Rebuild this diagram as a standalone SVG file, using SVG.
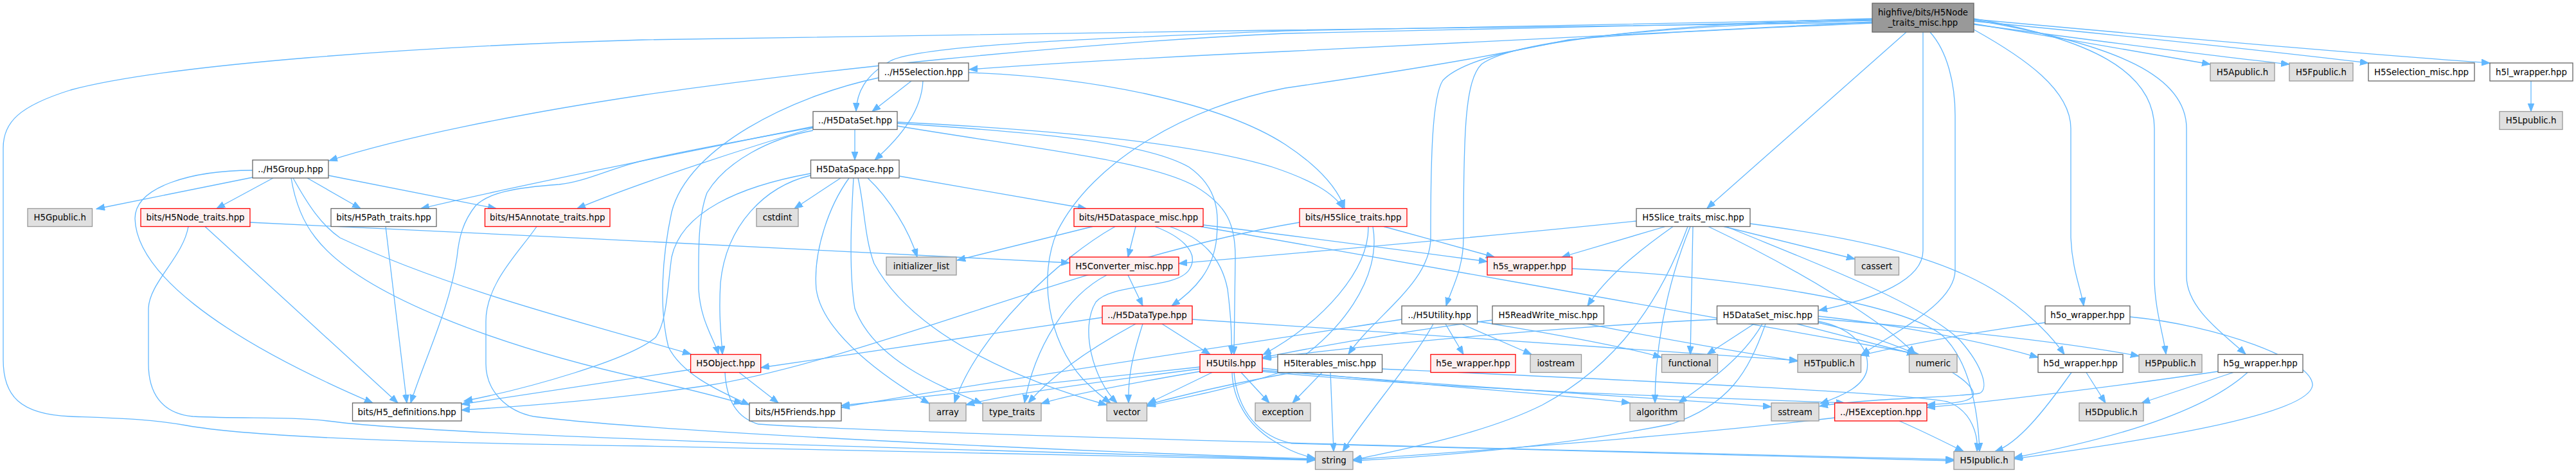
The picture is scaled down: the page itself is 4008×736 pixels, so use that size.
<svg xmlns="http://www.w3.org/2000/svg" width="4008" height="736" viewBox="0 0 4008 736">
<style>
rect{stroke-width:1.3}
.w{fill:#ffffff;stroke:#666666}
.g{fill:#e0e0e0;stroke:#999999}
.r{fill:#fff0f0;stroke:#ff0000}
.k{fill:#999999;stroke:#666666}
text{font-family:"DejaVu Sans","Liberation Sans",sans-serif;font-size:13.33px;text-anchor:middle;fill:#000000}
#edges path{fill:none;stroke:#63b8ff;stroke-width:1.3;marker-end:url(#a)}
</style>
<defs>
<marker id="a" markerWidth="14" markerHeight="11" refX="13" refY="5" orient="auto" markerUnits="userSpaceOnUse">
<path d="M0,0 L13,5 L0,10 z" fill="#63b8ff" stroke="#63b8ff" stroke-width="1"/>
</marker>
</defs>
<rect x="0" y="0" width="4008" height="736" fill="#ffffff"/>
<g id="edges">
<path d="M2913,35 C2500,42 1400,52 1000,62 C650,72 260,100 110,140 C30,165 5,190 5,230 L5,560 C5,615 30,645 110,648 C190,651 235,652 290,662 C400,682 700,690 1000,694 C1450,702 1850,710 2046,716"/>
<path d="M2913,32 C2500,40 2200,45 2000,52 C1650,68 1250,112 1000,148 C800,178 620,215 512,250"/>
<path d="M2913,30 C2500,36 2200,42 2000,48 C1700,60 1430,70 1385,95 C1345,118 1333,145 1332,173"/>
<path d="M2913,34 C2600,50 2200,72 2000,80 C1800,89 1620,100 1508,108"/>
<path d="M2913,36 C2700,45 2500,55 2440,62 C2300,92 2150,115 2000,137 C1850,165 1700,250 1645,360 C1615,430 1630,530 1685,590 C1700,605 1712,616 1728,627"/>
<path d="M2913,31 C2600,40 2360,60 2305,100 C2280,125 2277,200 2277,370 C2277,420 2258,450 2250,476"/>
<path d="M2913,29 C2600,36 2300,66 2245,125 C2228,150 2226,250 2226,370 C2226,440 2140,490 2098,551"/>
<path d="M2966,50 L2656,324"/>
<path d="M2992,50 L2992,390 C2992,435 2920,465 2830,483"/>
<path d="M3003,50 C3030,80 3042,130 3042,180 L3042,420 C3042,470 2960,510 2896,552"/>
<path d="M3071,29 C3250,60 3352,110 3352,200 L3352,430 C3352,480 3366,520 3370,551"/>
<path d="M3071,31 C3300,70 3402,120 3402,200 L3402,430 C3402,480 3460,520 3494,551"/>
<path d="M3071,46 C3150,90 3222,140 3222,200 L3222,370 C3224,420 3238,450 3242,476"/>
<path d="M3071,37 C3200,58 3350,84 3439,100"/>
<path d="M3071,38 C3250,62 3450,88 3562,100"/>
<path d="M3071,33 C3300,55 3550,82 3685,98"/>
<path d="M3071,30 C3400,60 3700,86 3874,98"/>
<path d="M1418,126 L1357,173.5"/>
<path d="M1436,126 C1434,170 1405,210 1361,249"/>
<path d="M1507,113 C1700,120 1900,160 2000,225 C2050,258 2080,290 2092,324"/>
<path d="M1367,121 C1230,150 1070,230 1045,330 C1030,400 1025,480 1040,540 C1060,580 1110,605 1166,630"/>
<path d="M3938,126 L3938,173.5"/>
<path d="M1330,201.5 L1330,249"/>
<path d="M1265,197 C1050,240 800,290 655,324.5"/>
<path d="M1265,199 C1130,240 980,290 898,324.5"/>
<path d="M1265,198 C1150,220 1060,235 1000,250 C950,262 910,283 870,287 C800,292 760,300 740,320 C720,345 714,370 711,400 C700,480 660,560 639,627"/>
<path d="M1265,203 C1200,215 1130,250 1100,300 C1085,340 1087,400 1087,450 C1090,500 1110,525 1118,551.5"/>
<path d="M1396,192 C1600,205 1780,220 1850,260 C1900,295 1895,340 1893,370 C1888,420 1860,450 1823,476"/>
<path d="M1396,196 C1600,230 1790,250 1860,290 C1910,320 1922,350 1922,400 L1920,551.5"/>
<path d="M1396,190 C1600,200 1850,220 1980,260 C2040,280 2075,300 2090,324.5"/>
<path d="M1308,277 L1236,324.5"/>
<path d="M1350,277 C1385,310 1415,360 1427,400"/>
<path d="M1399,274 L1690,324.5"/>
<path d="M1261,273 C1190,290 1130,350 1121,440 C1118,490 1122,520 1124,551.5"/>
<path d="M1261,270 C1150,290 1060,330 1045,400 C1038,450 1038,500 1020,525 C980,560 820,605 722,624"/>
<path d="M1321,277 C1290,320 1265,390 1270,450 C1280,520 1380,590 1446,628"/>
<path d="M1328,277 C1325,330 1320,420 1330,480 C1360,560 1460,600 1528,628"/>
<path d="M1335,277 C1345,320 1345,370 1360,410 C1420,520 1580,590 1722,630"/>
<path d="M393,276 L150,325"/>
<path d="M425,277 L337,324.5"/>
<path d="M478,277 L561,324.5"/>
<path d="M511,273 L772,324.5"/>
<path d="M393,265 C300,265 210,290 210,340 C212,420 330,520 580,627"/>
<path d="M456,277 C480,320 500,350 529,370 C700,450 900,500 1075,551"/>
<path d="M453,277 C460,320 475,350 491,370 C560,460 780,540 1000,589 C1060,603 1110,615 1155,628"/>
<path d="M319,352.5 L619,627"/>
<path d="M389,346 C800,365 1300,390 1664,409"/>
<path d="M293,352.5 C285,400 232,440 231,480 L231,566 C231,610 250,643 300,648 C380,652 450,648 510,655 C700,680 1500,700 2046,715"/>
<path d="M600,352.5 L633,627"/>
<path d="M835,352.5 C810,390 756,440 756,500 L756,566 C756,610 790,640 830,648 C1000,670 1600,700 2046,714"/>
<path d="M1700,352.5 L1489,405"/>
<path d="M1767,352.5 L1755,400"/>
<path d="M1735,352.5 C1650,400 1520,520 1485,627"/>
<path d="M1797,352.5 C1830,365 1870,390 1850,420 C1830,450 1730,440 1705,470 C1680,510 1700,590 1738,627"/>
<path d="M1820,352.5 C1870,370 1900,400 1910,450 C1915,490 1917,520 1916,551.5"/>
<path d="M1872,350 C2000,365 2150,385 2314,407"/>
<path d="M1868,352.5 C2200,410 2700,500 2985,551"/>
<path d="M1755,428 L1778,476"/>
<path d="M1722,428 C1660,460 1610,540 1594,627"/>
<path d="M1715,494 L1184,572"/>
<path d="M1767,504 C1700,540 1640,580 1600,627"/>
<path d="M1778,504 C1760,560 1755,590 1756,627"/>
<path d="M1808,504 L1883,551.5"/>
<path d="M1855,497 C2200,520 2600,545 2797,561"/>
<path d="M2022,346 C1700,400 1350,560 1100,600 C950,622 800,633 718,638"/>
<path d="M2129,352.5 C2130,420 2060,500 1965,552"/>
<path d="M2136,352.5 C2150,430 2090,520 1990,580 C1900,610 1820,622 1785,632"/>
<path d="M2153,352.5 C2210,368 2270,385 2325,400"/>
<path d="M2546,344 C2300,370 2000,395 1834,410"/>
<path d="M2591,352.5 L2430,400"/>
<path d="M2603,352.5 C2550,390 2500,430 2470,476"/>
<path d="M2626,352.5 C2590,450 2530,560 2400,630 C2300,680 2150,705 2105,716"/>
<path d="M2630,352.5 C2590,450 2575,550 2575,627"/>
<path d="M2634,352.5 L2630,551.5"/>
<path d="M2658,352.5 C2800,420 2930,500 2980,551"/>
<path d="M2686,352.5 C2800,400 2990,470 3050,530 C3085,570 3095,605 3080,612 C3050,618 2900,620 2831,632"/>
<path d="M2682,352.5 L2886,403"/>
<path d="M2723,348 C2850,365 3000,390 3100,450 C3150,480 3190,520 3212,551.5"/>
<path d="M2446,418 C2700,430 2950,470 3020,520 C3065,560 3078,640 3080,702.5"/>
<path d="M2249,504 L2277,551.5"/>
<path d="M2274,504 L2383,551.5"/>
<path d="M2298,500 C2420,520 2530,540 2585,556"/>
<path d="M2230,504 C2200,560 2130,640 2089,702.5"/>
<path d="M2181,497 C1900,540 1500,600 1309,634"/>
<path d="M2322,498 C2150,520 2050,540 1965,556"/>
<path d="M2470,504 C2600,530 2720,550 2797,562"/>
<path d="M2671,497 C2400,510 2100,540 1965,558"/>
<path d="M2729,504 L2656,551.5"/>
<path d="M2742,504 C2710,560 2650,600 2612,627"/>
<path d="M2747,504 C2720,580 2690,630 2600,660 C2400,700 2200,712 2106,717"/>
<path d="M2796,504 L2980,551.5"/>
<path d="M2829,496 C3000,510 3200,530 3328,554"/>
<path d="M2829,492 C2950,505 3080,530 3171,556"/>
<path d="M2829,500 C2880,510 2910,540 2905,575 C2900,600 2870,615 2832,628"/>
<path d="M2829,502 C2950,530 3060,580 3070,610 C3075,625 3040,628 2998,630"/>
<path d="M3314,493 C3450,506 3600,560 3598,600 C3590,650 3300,690 3134,714"/>
<path d="M3182,502 C3050,520 2950,540 2895,553"/>
<path d="M3246,579.5 L3276,627"/>
<path d="M3223,579.5 C3180,640 3140,690 3104,702.5"/>
<path d="M3475,579.5 L3332,627"/>
<path d="M3497,579.5 C3420,650 3250,690 3134,712"/>
<path d="M3451,578 C3300,600 3100,625 2998,634"/>
<path d="M1075,575 L718,629"/>
<path d="M1150,579.5 L1211,627"/>
<path d="M1128,579.5 C1130,620 1145,650 1180,660 C1400,675 2400,700 3040,715"/>
<path d="M1867,571 L1309,631"/>
<path d="M1867,574 C1700,595 1560,615 1503,630"/>
<path d="M1867,578 C1750,598 1660,615 1620,628"/>
<path d="M1886,579.5 L1786,628"/>
<path d="M1931,579.5 L1975,627"/>
<path d="M1917,579.5 C1918,620 1940,660 1980,685 C2000,698 2020,708 2046,713"/>
<path d="M1920,579.5 C1925,640 1960,680 2010,690 C2400,700 2800,708 3040,717"/>
<path d="M1964,573 C2200,600 2450,615 2536,627"/>
<path d="M1964,576 C2300,605 2600,620 2756,633"/>
<path d="M1964,578 C2300,610 2700,620 2870,627"/>
<path d="M2057,579.5 L2011,627"/>
<path d="M2070,579.5 L2075,702.5"/>
<path d="M2012,579.5 C1900,600 1820,620 1785,630"/>
<path d="M2150,574 C2500,590 2950,610 3030,625 C3070,640 3078,680 3076,702.5"/>
<path d="M2855,650 C2600,680 2250,705 2105,715"/>
<path d="M2955,655 C2990,670 3030,690 3055,702.5"/>
</g>
<g id="n_root"><rect class="k" x="2913" y="5" width="158" height="45"/><text x="2992" y="23.5">highfive/bits/H5Node</text><text x="2992" y="40">_traits_misc.hpp</text></g>
<g id="n_sel"><rect class="w" x="1367" y="98" width="140" height="28"/><text x="1437" y="116.8">../H5Selection.hpp</text></g>
<g id="n_apub"><rect class="g" x="3439" y="98" width="100" height="28"/><text x="3489" y="116.8">H5Apublic.h</text></g>
<g id="n_fpub"><rect class="g" x="3562" y="98" width="99" height="28"/><text x="3611.5" y="116.8">H5Fpublic.h</text></g>
<g id="n_selmisc"><rect class="w" x="3685" y="98" width="165" height="28"/><text x="3767.5" y="116.8">H5Selection_misc.hpp</text></g>
<g id="n_h5l"><rect class="w" x="3874" y="98" width="129" height="28"/><text x="3938.5" y="116.8">h5l_wrapper.hpp</text></g>
<g id="n_ds"><rect class="w" x="1265" y="173.5" width="131" height="28"/><text x="1330.5" y="192.3">../H5DataSet.hpp</text></g>
<g id="n_lpub"><rect class="g" x="3889" y="173.5" width="98" height="28"/><text x="3938" y="192.3">H5Lpublic.h</text></g>
<g id="n_group"><rect class="w" x="393" y="249" width="118" height="28"/><text x="452" y="267.8">../H5Group.hpp</text></g>
<g id="n_dsp"><rect class="w" x="1261.5" y="249" width="137.5" height="28"/><text x="1330.2" y="267.8">H5DataSpace.hpp</text></g>
<g id="n_gpub"><rect class="g" x="43" y="324.5" width="100.5" height="28"/><text x="93.2" y="343.3">H5Gpublic.h</text></g>
<g id="n_nodetr"><rect class="r" x="219" y="324.5" width="170" height="28"/><text x="304" y="343.3">bits/H5Node_traits.hpp</text></g>
<g id="n_pathtr"><rect class="w" x="515" y="324.5" width="164" height="28"/><text x="597" y="343.3">bits/H5Path_traits.hpp</text></g>
<g id="n_anntr"><rect class="r" x="754.5" y="324.5" width="194.5" height="28"/><text x="851.7" y="343.3">bits/H5Annotate_traits.hpp</text></g>
<g id="n_cstdint"><rect class="g" x="1177" y="324.5" width="65" height="28"/><text x="1209.5" y="343.3">cstdint</text></g>
<g id="n_dspmisc"><rect class="r" x="1671" y="324.5" width="201" height="28"/><text x="1771.5" y="343.3">bits/H5Dataspace_misc.hpp</text></g>
<g id="n_slicetr"><rect class="r" x="2022" y="324.5" width="167" height="28"/><text x="2105.5" y="343.3">bits/H5Slice_traits.hpp</text></g>
<g id="n_slicemisc"><rect class="w" x="2546" y="324.5" width="177" height="28"/><text x="2634.5" y="343.3">H5Slice_traits_misc.hpp</text></g>
<g id="n_initlist"><rect class="g" x="1379" y="400" width="109" height="28"/><text x="1433.5" y="418.8">initializer_list</text></g>
<g id="n_convmisc"><rect class="r" x="1664.5" y="400" width="169.5" height="28"/><text x="1749.2" y="418.8">H5Converter_misc.hpp</text></g>
<g id="n_h5s"><rect class="r" x="2314" y="400" width="132" height="28"/><text x="2380" y="418.8">h5s_wrapper.hpp</text></g>
<g id="n_cassert"><rect class="g" x="2886" y="400" width="68.5" height="28"/><text x="2920.2" y="418.8">cassert</text></g>
<g id="n_dtype"><rect class="r" x="1715" y="476" width="140" height="28"/><text x="1785" y="494.8">../H5DataType.hpp</text></g>
<g id="n_utility"><rect class="w" x="2181" y="476" width="117.5" height="28"/><text x="2239.7" y="494.8">../H5Utility.hpp</text></g>
<g id="n_rwmisc"><rect class="w" x="2322" y="476" width="173.5" height="28"/><text x="2408.7" y="494.8">H5ReadWrite_misc.hpp</text></g>
<g id="n_dsmisc"><rect class="w" x="2671.5" y="476" width="157.5" height="28"/><text x="2750.2" y="494.8">H5DataSet_misc.hpp</text></g>
<g id="n_h5o"><rect class="w" x="3182" y="476" width="132" height="28"/><text x="3248" y="494.8">h5o_wrapper.hpp</text></g>
<g id="n_object"><rect class="r" x="1074.6" y="551.5" width="109.1" height="28"/><text x="1129.1" y="570.3">H5Object.hpp</text></g>
<g id="n_utils"><rect class="r" x="1867" y="551.5" width="97" height="28"/><text x="1915.5" y="570.3">H5Utils.hpp</text></g>
<g id="n_itmisc"><rect class="w" x="1988" y="551.5" width="162.5" height="28"/><text x="2069.2" y="570.3">H5Iterables_misc.hpp</text></g>
<g id="n_h5e"><rect class="r" x="2226" y="551.5" width="132" height="28"/><text x="2292" y="570.3">h5e_wrapper.hpp</text></g>
<g id="n_iostream"><rect class="g" x="2381" y="551.5" width="79.5" height="28"/><text x="2420.7" y="570.3">iostream</text></g>
<g id="n_functional"><rect class="g" x="2585.5" y="551.5" width="87" height="28"/><text x="2629" y="570.3">functional</text></g>
<g id="n_tpub"><rect class="g" x="2797" y="551.5" width="98.5" height="28"/><text x="2846.2" y="570.3">H5Tpublic.h</text></g>
<g id="n_numeric"><rect class="g" x="2970.5" y="551.5" width="74.5" height="28"/><text x="3007.7" y="570.3">numeric</text></g>
<g id="n_h5d"><rect class="w" x="3171" y="551.5" width="132" height="28"/><text x="3237" y="570.3">h5d_wrapper.hpp</text></g>
<g id="n_ppub"><rect class="g" x="3328" y="551.5" width="98" height="28"/><text x="3377" y="570.3">H5Ppublic.h</text></g>
<g id="n_h5g"><rect class="w" x="3451" y="551.5" width="132" height="28"/><text x="3517" y="570.3">h5g_wrapper.hpp</text></g>
<g id="n_defs"><rect class="w" x="548.5" y="627" width="169.5" height="28"/><text x="633.2" y="645.8">bits/H5_definitions.hpp</text></g>
<g id="n_friends"><rect class="w" x="1166" y="627" width="143" height="28"/><text x="1237.5" y="645.8">bits/H5Friends.hpp</text></g>
<g id="n_array"><rect class="g" x="1446" y="627" width="57" height="28"/><text x="1474.5" y="645.8">array</text></g>
<g id="n_typetraits"><rect class="g" x="1529" y="627" width="91" height="28"/><text x="1574.5" y="645.8">type_traits</text></g>
<g id="n_vector"><rect class="g" x="1722" y="627" width="62.5" height="28"/><text x="1753.2" y="645.8">vector</text></g>
<g id="n_exception"><rect class="g" x="1953" y="627" width="86" height="28"/><text x="1996" y="645.8">exception</text></g>
<g id="n_algorithm"><rect class="g" x="2536" y="627" width="84.5" height="28"/><text x="2578.2" y="645.8">algorithm</text></g>
<g id="n_sstream"><rect class="g" x="2756" y="627" width="74" height="28"/><text x="2793" y="645.8">sstream</text></g>
<g id="n_exc"><rect class="r" x="2854.6" y="627" width="143.4" height="28"/><text x="2926.3" y="645.8">../H5Exception.hpp</text></g>
<g id="n_dpub"><rect class="g" x="3235" y="627" width="100" height="28"/><text x="3285" y="645.8">H5Dpublic.h</text></g>
<g id="n_string"><rect class="g" x="2046.5" y="702.5" width="58.5" height="28"/><text x="2075.7" y="721.3">string</text></g>
<g id="n_ipub"><rect class="g" x="3040" y="702.5" width="94" height="28"/><text x="3087" y="721.3">H5Ipublic.h</text></g>
</svg>
